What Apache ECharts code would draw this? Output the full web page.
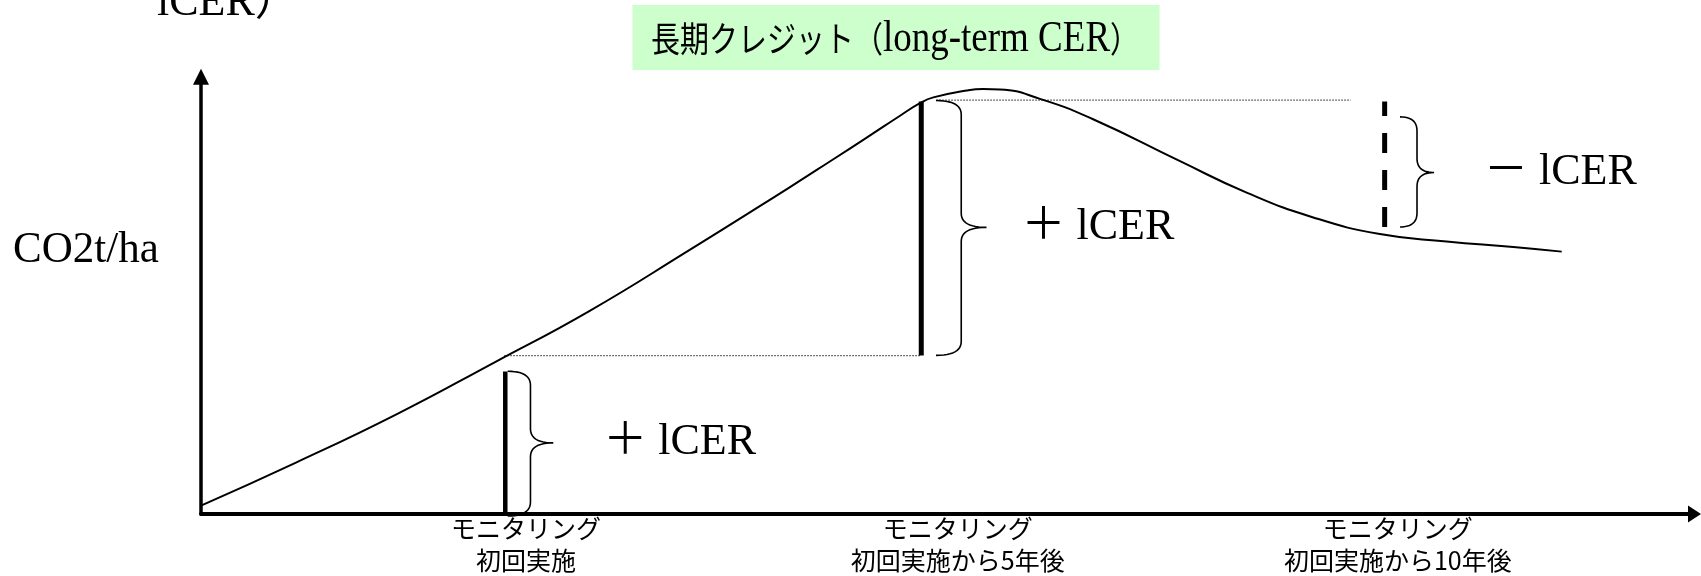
<!DOCTYPE html>
<html>
<head>
<meta charset="utf-8">
<script src="https://cdn.jsdelivr.net/npm/echarts@6/dist/echarts.min.js"></script>
<style>
  html, body { margin: 0; padding: 0; background: #fff; }
  #chart { width: 1701px; height: 576px; }
</style>
</head>
<body>
<div id="chart"></div>
<script>
// ---------- data (schematic units: x = time, y = CO2 stock) ----------
const curveX = [0, 9.54, 19.58, 29.63, 38.87, 48.92, 58.96, 63.47, 66.86, 70.21, 72.21, 73.55, 76.9, 78.57, 80.25, 84.26, 89.49, 98.33, 105.02, 111.71, 118.4, 125.1, 131.8, 136.66];
const curveY = [2.1, 12.93, 25.0, 38.35, 50.85, 66.18, 81.93, 89.18, 94.68, 100.18, 103.35, 104.8, 106.55, 106.93, 106.8, 104.43, 99.43, 88.75, 80.85, 74.6, 70.43, 68.55, 67.18, 66.0];

const monitorX = [30.56, 72.34, 118.88];
const monitorTop = [35.85, 103.75, 103.75];
const monitorBottom = [0, 39.9, 72.2];

const dottedY = [39.85, 104.1];
const dottedFrom = [30.46, 73.85];
const dottedTo = [72.34, 115.47];

const braceLeft = [30.8, 73.82, 120.42];
const braceTip = [35.38, 78.89, 123.84];
const braceTop = [35.9, 104.0, 99.9];
const braceBottom = [-0.5, 39.9, 72.2];
const braceMid = [17.9, 72.1, 85.9];
const braceLabels = ['＋ lCER', '＋ lCER', '－ lCER'];

const tickPositions = [32.65, 76.0, 120.2];
const tickLabels = ['モニタリング\n初回実施', 'モニタリング\n初回実施から5年後', 'モニタリング\n初回実施から10年後'];

const yAxisName = 'CO2t/ha';
const topClippedText = 'lCER）';
const titleJa = '長期クレジット（';
const titleEn = 'long-term CER';
const titleClose = '）';

// ---------- layout / styles ----------
const SERIF = '"Liberation Serif", "Times New Roman", "Noto Sans CJK JP", serif';
const CJK = '"Noto Sans CJK JP", sans-serif';
const labelGap = [50, 35, 50];
const monitorStyles = [
  { width: 4.5, type: 'solid' },
  { width: 5, type: 'solid' },
  { width: 5, type: [20, 17] }
];

const chart = echarts.init(document.getElementById('chart'), null, { renderer: 'canvas' });

const series = [];

series.push({
  type: 'line',
  data: curveX.map((x, i) => [x, curveY[i]]),
  smooth: 0.5,
  symbol: 'none',
  lineStyle: { color: '#000', width: 2 },
  z: 3
});

monitorX.forEach((x, i) => {
  series.push({
    type: 'line',
    data: [[x, monitorBottom[i]], [x, monitorTop[i]]],
    symbol: 'none',
    lineStyle: { color: '#000', width: monitorStyles[i].width, type: monitorStyles[i].type, cap: 'butt' },
    z: 4
  });
});

dottedY.forEach((y, i) => {
  series.push({
    type: 'line',
    data: [[dottedFrom[i], y], [dottedTo[i], y]],
    symbol: 'none',
    lineStyle: { color: '#444', width: 1.2, type: [1.5, 1.5] },
    z: 2
  });
});

function quad(p0, c, p1, n) {
  const pts = [];
  for (let k = 0; k <= n; k++) {
    const t = k / n;
    const a = (1 - t) * (1 - t), b = 2 * (1 - t) * t, d = t * t;
    pts.push([a * p0[0] + b * c[0] + d * p1[0], a * p0[1] + b * c[1] + d * p1[1]]);
  }
  return pts;
}

series.push({
  type: 'custom',
  clip: false,
  data: braceLeft.map((x, i) => [x, braceTip[i], braceTop[i], braceBottom[i], braceMid[i]]),
  renderItem: function (params, api) {
    const i = params.dataIndex;
    const pTop = api.coord([api.value(0), api.value(2)]);
    const pBot = api.coord([api.value(0), api.value(3)]);
    const pTip = api.coord([api.value(1), api.value(4)]);
    const L = pTop[0], T = pTip[0], M = (L + T) / 2;
    const y0 = pTop[1], y1 = pBot[1], ym = pTip[1];
    const r = Math.min(14, (y1 - y0) / 4);
    let pts = [];
    pts = pts.concat(quad([L, y0], [M, y0], [M, y0 + r], 12));
    pts.push([M, ym - r]);
    pts = pts.concat(quad([M, ym - r], [M, ym], [T, ym], 12));
    pts = pts.concat(quad([T, ym], [M, ym], [M, ym + r], 12));
    pts.push([M, y1 - r]);
    pts = pts.concat(quad([M, y1 - r], [M, y1], [L, y1], 12));
    return {
      type: 'group',
      children: [
        { type: 'polyline', shape: { points: pts }, style: { fill: 'none', stroke: '#000', lineWidth: 1.6 } },
        { type: 'text', style: { text: braceLabels[i], x: T + labelGap[i], y: ym, align: 'left', verticalAlign: 'middle', fontSize: 44, fontFamily: SERIF, fill: '#000' } }
      ]
    };
  },
  z: 5
});

const option = {
  animation: false,
  backgroundColor: '#fff',
  grid: { left: 201, right: 6.5, top: 76.7, bottom: 59.3, containLabel: false },
  xAxis: {
    type: 'value', min: 0, max: 150,
    axisLine: { show: true, onZero: false, symbol: ['none', 'triangle'], symbolSize: [17, 13], lineStyle: { color: '#000', width: 4 } },
    axisTick: { show: false },
    splitLine: { show: false },
    axisLabel: {
      customValues: tickPositions,
      formatter: function (v) {
        let best = 0;
        tickPositions.forEach((p, k) => { if (Math.abs(p - v) < Math.abs(tickPositions[best] - v)) best = k; });
        return tickLabels[best];
      },
      margin: -2,
      fontSize: 25,
      lineHeight: 32,
      fontFamily: CJK,
      color: '#000'
    }
  },
  yAxis: {
    type: 'value', min: 0, max: 110,
    axisLine: { show: true, onZero: false, symbol: ['none', 'triangle'], symbolSize: [16, 16], lineStyle: { color: '#000', width: 3.5 } },
    axisTick: { show: false },
    splitLine: { show: false },
    axisLabel: { show: false }
  },
  graphic: [
    { type: 'rect', left: 632.5, top: 5, shape: { width: 527, height: 65 }, style: { fill: '#CCFFCC' }, z: 1 },
    {
      type: 'text', x: 895, y: 39, scaleY: 1.22, z: 2,
      style: {
        text: '{j|' + titleJa + '}{l|' + titleEn + '}{j|' + titleClose + '}',
        align: 'center', verticalAlign: 'middle',
        rich: {
          j: { fontSize: 29, fontFamily: CJK, fill: '#000' },
          l: { fontSize: 37, fontFamily: SERIF, fill: '#000' }
        }
      }
    },
    { type: 'text', x: 13, y: 250, scaleY: 1.05, z: 2, style: { text: yAxisName, fontSize: 43, fontFamily: SERIF, fill: '#000', align: 'left', verticalAlign: 'middle' } },
    { type: 'text', x: 157, y: 3, z: 2, style: { text: topClippedText, fontSize: 44, fontFamily: SERIF, fill: '#000', align: 'left', verticalAlign: 'middle' } }
  ],
  series: series
};

chart.setOption(option);
</script>
</body>
</html>
